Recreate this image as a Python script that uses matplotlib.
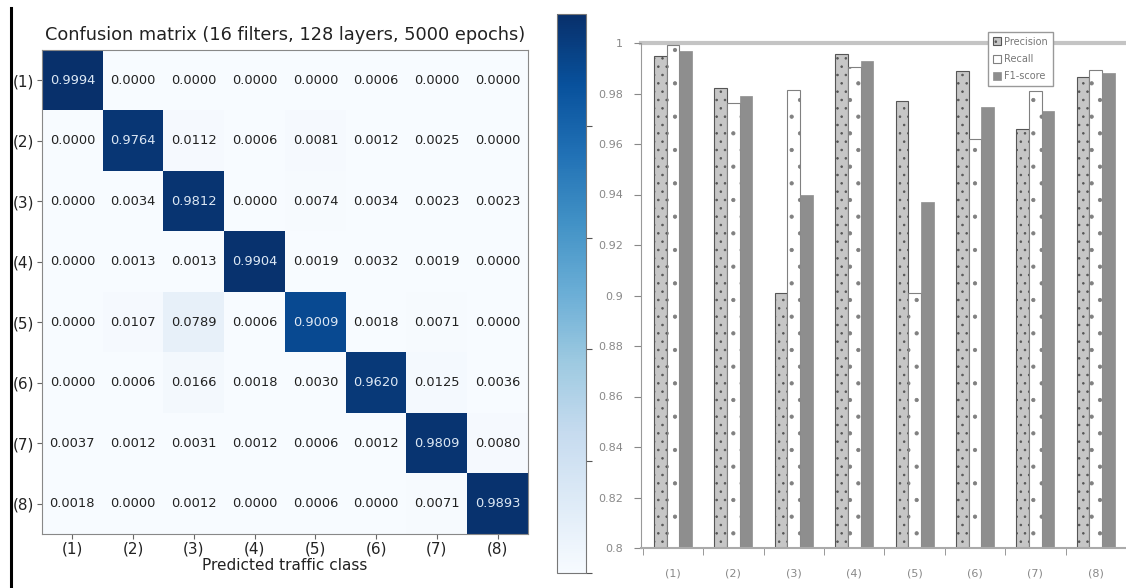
import numpy as np
import matplotlib
matplotlib.use("Agg")
import matplotlib.pyplot as plt
from matplotlib.lines import Line2D

# class labels
classes = ["(1)", "(2)", "(3)", "(4)", "(5)", "(6)", "(7)", "(8)"]

# confusion matrix rows (true class) -> columns (predicted class)
cm_row1 = [0.9994, 0.0000, 0.0000, 0.0000, 0.0000, 0.0006, 0.0000, 0.0000]
cm_row2 = [0.0000, 0.9764, 0.0112, 0.0006, 0.0081, 0.0012, 0.0025, 0.0000]
cm_row3 = [0.0000, 0.0034, 0.9812, 0.0000, 0.0074, 0.0034, 0.0023, 0.0023]
cm_row4 = [0.0000, 0.0013, 0.0013, 0.9904, 0.0019, 0.0032, 0.0019, 0.0000]
cm_row5 = [0.0000, 0.0107, 0.0789, 0.0006, 0.9009, 0.0018, 0.0071, 0.0000]
cm_row6 = [0.0000, 0.0006, 0.0166, 0.0018, 0.0030, 0.9620, 0.0125, 0.0036]
cm_row7 = [0.0037, 0.0012, 0.0031, 0.0012, 0.0006, 0.0012, 0.9809, 0.0080]
cm_row8 = [0.0018, 0.0000, 0.0012, 0.0000, 0.0006, 0.0000, 0.0071, 0.9893]

# per-class metrics (bar chart)
precision = [0.995, 0.982, 0.901, 0.9955, 0.977, 0.989, 0.966, 0.9866]
recall = [0.9994, 0.9764, 0.9812, 0.9904, 0.9009, 0.9620, 0.9809, 0.9893]
f1_score = [0.997, 0.979, 0.940, 0.993, 0.937, 0.9745, 0.973, 0.988]

cm = np.array([cm_row1, cm_row2, cm_row3, cm_row4,
               cm_row5, cm_row6, cm_row7, cm_row8])

W, H = 1126, 588
fig = plt.figure(figsize=(W / 100, H / 100), dpi=100)


def box(x0, y0, x1, y1):
    # pixel box -> figure fraction [left, bottom, width, height]
    return [x0 / W, 1 - y1 / H, (x1 - x0) / W, (y1 - y0) / H]


# ---- confusion matrix ----
ax = fig.add_axes(box(42, 50, 528, 534))
im = ax.imshow(cm, cmap="Blues", vmin=0, vmax=1, aspect="auto",
               interpolation="nearest")
for i in range(cm.shape[0]):
    for j in range(cm.shape[1]):
        v = cm[i, j]
        ax.text(j, i, f"{v:.4f}", ha="center", va="center", fontsize=9.4,
                color="#dbe7f4" if v > 0.5 else "#222222")
ax.set_xticks(range(len(classes)))
ax.set_xticklabels(classes, fontsize=11, color="#222222")
ax.set_yticks(range(len(classes)))
ax.set_yticklabels(classes, fontsize=11, color="#222222")
ax.tick_params(length=3.5, color="#666666", pad=2)
for s in ax.spines.values():
    s.set_color("#888888")
ax.set_title("Confusion matrix (16 filters, 128 layers, 5000 epochs)",
             fontsize=12.8, color="#222222", pad=7)
ax.set_xlabel("Predicted traffic class", fontsize=11, color="#222222",
              labelpad=1)

# colorbar
cax = fig.add_axes(box(557, 14, 586, 573))
cb = fig.colorbar(im, cax=cax)
cb.set_ticks([0, 0.2, 0.4, 0.6, 0.8])
cb.ax.tick_params(length=4, color="#555555", labelright=False)
cb.outline.set_edgecolor("#777777")

# left border line
fig.add_artist(Line2D([11 / W, 11 / W], [0, 1 - 8 / H], color="black",
                      lw=2.2))

# ---- bar chart ----
plt.rcParams["hatch.linewidth"] = 0.6
plt.rcParams["hatch.color"] = "#666666"
bx = fig.add_axes(box(641, 43, 1126, 548))
x = np.arange(len(classes))
w = 0.21
b1 = bx.bar(x - w, precision, w, color="#c6c6c6", edgecolor="#555555",
            hatch="..", lw=0.8, label="Precision")
b2 = bx.bar(x, recall, w, color="white", edgecolor="#808080", hatch=".",
            lw=0.8, label="Recall")
b3 = bx.bar(x + w, f1_score, w, color="#8e8e8e", edgecolor="#8e8e8e",
            lw=0.5, label="F1-score")
bx.set_ylim(0.8, 1.0)
bx.set_xlim(-0.53, 7.40)
bx.axhline(1.0, color="#c4c4c4", lw=3, zorder=0, clip_on=False)
yt = np.round(np.arange(0.8, 1.0001, 0.02), 2)
bx.set_yticks(yt)
bx.set_yticklabels([f"{v:g}" for v in yt], fontsize=8, color="#888888")
bx.set_xticks(x)
bx.set_xticklabels(classes, fontsize=8, color="#888888")
bx.set_xticks(np.arange(-0.5, 7.6, 1), minor=True)
bx.tick_params(axis="x", which="major", length=0, pad=15)
bx.tick_params(axis="x", which="minor", length=5, color="#888888")
bx.tick_params(axis="y", length=5, color="#888888", pad=8)
for s in ["top", "right"]:
    bx.spines[s].set_visible(False)
bx.spines["left"].set_color("#999999")
bx.spines["bottom"].set_color("#aaaaaa")
bx.spines["bottom"].set_linewidth(1.5)
leg = fig.legend(handles=[b1, b2, b3], loc="upper left",
                 bbox_to_anchor=(983 / W, 1 - 27 / H), fontsize=7,
                 handlelength=0.9, handleheight=0.9, handletextpad=0.3,
                 labelspacing=0.75, borderpad=0.5, fancybox=False,
                 framealpha=1)
leg.get_frame().set_edgecolor("#999999")
for t in leg.get_texts():
    t.set_color("#777777")

plt.savefig("out.png", dpi=100)
